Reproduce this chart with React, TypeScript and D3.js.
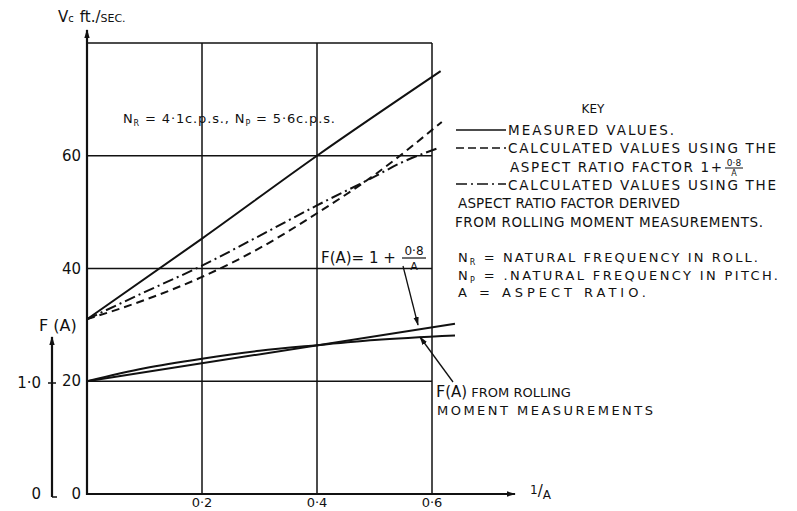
import React from 'react';
import * as d3 from 'd3';

// values, x = 1/A, y = Vc ft./sec.
const xTicks = [0.2, 0.4, 0.6];
const xTickLabels = ['0·2', '0·4', '0·6'];
const yGrid = [20, 40, 60, 80];
const yTicks = [0, 20, 40, 60];
const fTicks = [0, 1];
const fTickLabels = ['0', '1·0'];

const measured: [number, number][] = [[0, 31], [0.2, 45.3], [0.4, 60], [0.615, 75]];
const calcAR: [number, number][] = [[0, 31], [0.1, 34.4], [0.2, 38.5], [0.3, 43.6], [0.4, 49.8], [0.5, 56.6], [0.617, 66]];
const calcRolling: [number, number][] = [[0, 31], [0.1, 35.8], [0.2, 40.5], [0.3, 45.8], [0.4, 51.2], [0.5, 56.3], [0.545, 58.7], [0.612, 61.4]];
const fLinear: [number, number][] = [[0, 20], [0.64, 30.2]];
const fRolling: [number, number][] = [[0, 20], [0.1, 22.3], [0.2, 24], [0.3, 25.4], [0.4, 26.4], [0.5, 27.3], [0.64, 28.1]];

const W = 797;
const H = 511;
const ink = '#111';
const font = '"DejaVu Sans", sans-serif';

export default function App() {
  const x = d3.scaleLinear().domain([0, 0.6]).range([87, 432]);
  const y = d3.scaleLinear().domain([0, 80]).range([494, 43]);
  const fy = d3.scaleLinear().domain([0, 1]).range([494, 383]);
  const line = d3.line<[number, number]>()
    .x(d => x(d[0]))
    .y(d => y(d[1]))
    .curve(d3.curveMonotoneX);

  const keyText = (tx: number, ty: number, s: string, len?: number) => (
    <text x={tx} y={ty} fontSize={13.5} textLength={len} lengthAdjust="spacing">{s}</text>
  );

  return (
    <svg width={W} height={H} style={{ position: 'absolute', left: 0, top: 0, background: '#fff' }}
      fontFamily={font} fill={ink}>
      <defs>
        <marker id="arr" viewBox="0 0 10 10" refX="9" refY="5" markerWidth="9" markerHeight="9"
          orient="auto-start-reverse" markerUnits="userSpaceOnUse">
          <path d="M0,2 L10,5 L0,8 Z" fill={ink} />
        </marker>
      </defs>

      {/* grid */}
      <g stroke={ink} strokeWidth={1.5} fill="none">
        {yGrid.map(v => <line key={v} x1={x(0)} x2={x(0.6)} y1={y(v)} y2={y(v)} />)}
        {xTicks.map(v => <line key={v} x1={x(v)} x2={x(v)} y1={y(0)} y2={y(80)} />)}
      </g>

      {/* axes */}
      <g stroke={ink} strokeWidth={2.2} fill="none">
        <line x1={x(0)} x2={x(0)} y1={y(0) + 1} y2={30} markerEnd="url(#arr)" />
        <line x1={x(0) - 1} x2={515} y1={y(0)} y2={y(0)} markerEnd="url(#arr)" />
        <line x1={52} x2={52} y1={fy(0) + 3} y2={337} markerEnd="url(#arr)" />
        <line x1={52} x2={57} y1={fy(0) + 3} y2={fy(0) + 3} strokeWidth={1.5} />
        <line x1={48} x2={56} y1={fy(1)} y2={fy(1)} strokeWidth={1.5} />
      </g>

      {/* tick labels */}
      <g fontSize={13} textAnchor="middle">
        {xTicks.map((v, i) => <text key={v} x={x(v)} y={507}>{xTickLabels[i]}</text>)}
      </g>
      <g fontSize={15} textAnchor="end">
        {yTicks.map(v => <text key={v} x={81} y={y(v) + 5}>{v}</text>)}
        {fTicks.map((v, i) => <text key={v} x={41} y={fy(v) + 5}>{fTickLabels[i]}</text>)}
      </g>

      {/* axis titles */}
      <text x={58} y={22} fontSize={15}>V<tspan fontSize={10}>c</tspan><tspan dx={6}>ft./</tspan><tspan fontSize={11}>SEC.</tspan></text>
      <text x={39} y={331} fontSize={16}>F (A)</text>
      <text x={530} y={494} fontSize={12}>1<tspan fontSize={15} dy={2}>/</tspan><tspan dy={3}>A</tspan></text>

      {/* curves */}
      <g fill="none" stroke={ink} strokeWidth={2}>
        <path d={line(measured) ?? ''} />
        <path d={line(calcAR) ?? ''} strokeDasharray="8,5" />
        <path d={line(calcRolling) ?? ''} strokeDasharray="11,4,2,4" />
        <path d={line(fLinear) ?? ''} />
        <path d={line(fRolling) ?? ''} />
      </g>

      {/* annotation arrows */}
      <g stroke={ink} strokeWidth={1.3} fill="none">
        <line x1={403} y1={266} x2={418} y2={325} markerEnd="url(#arr)" />
        <line x1={453} y1={382} x2={420} y2={337} markerEnd="url(#arr)" />
      </g>

      <text x={123} y={123} fontSize={13} textLength={212} lengthAdjust="spacing">N<tspan fontSize={8} dy={3}>R</tspan><tspan dy={-3}> = 4·1c.p.s., N</tspan><tspan fontSize={8} dy={3}>P</tspan><tspan dy={-3}> = 5·6c.p.s.</tspan></text>

      {/* F(A) = 1 + 0.8/A label */}
      <text x={321} y={263} fontSize={15}>F(A)= 1 +</text>
      <text x={414} y={255} fontSize={12} textAnchor="middle">0·8</text>
      <line x1={402} x2={426} y1={258} y2={258} stroke={ink} strokeWidth={1.2} />
      <text x={414} y={270} fontSize={11} textAnchor="middle">A</text>

      <text x={436} y={397} fontSize={16}>F<tspan fontSize={15}>(A)</tspan><tspan fontSize={13}> FROM ROLLING</tspan></text>
      <text x={437} y={415} fontSize={13} textLength={216} lengthAdjust="spacing">MOMENT MEASUREMENTS</text>

      {/* key */}
      <text x={593} y={113} fontSize={12} textAnchor="middle">KEY</text>
      <g stroke={ink} strokeWidth={1.6}>
        <line x1={456} x2={506} y1={130} y2={130} />
        <line x1={456} x2={506} y1={148} y2={148} strokeDasharray="8,4" />
        <line x1={456} x2={506} y1={184} y2={184} strokeDasharray="11,4,2,4" />
      </g>
      {keyText(508, 135, 'MEASURED VALUES.', 166)}
      {keyText(508, 153, 'CALCULATED VALUES USING THE', 268)}
      {keyText(510, 172, 'ASPECT RATIO FACTOR 1+', 212)}
      <text x={734} y={166} fontSize={9} textAnchor="middle">0·8</text>
      <line x1={725} x2={743} y1={168} y2={168} stroke={ink} strokeWidth={1} />
      <text x={734} y={176} fontSize={8} textAnchor="middle">A</text>
      {keyText(508, 190, 'CALCULATED VALUES USING THE', 268)}
      {keyText(458, 208, 'ASPECT RATIO FACTOR DERIVED', 222)}
      {keyText(455, 227, 'FROM ROLLING MOMENT MEASUREMENTS.', 308)}

      <text x={458} y={262} fontSize={13} textLength={300} lengthAdjust="spacing">N<tspan fontSize={8} dy={3}>R</tspan><tspan dy={-3}> = NATURAL FREQUENCY IN ROLL.</tspan></text>
      <text x={458} y={280} fontSize={13} textLength={320} lengthAdjust="spacing">N<tspan fontSize={8} dy={3}>P</tspan><tspan dy={-3}> = .NATURAL FREQUENCY IN PITCH.</tspan></text>
      <text x={458} y={297} fontSize={13} textLength={188} lengthAdjust="spacing">A = ASPECT RATIO.</text>
    </svg>
  );
}
